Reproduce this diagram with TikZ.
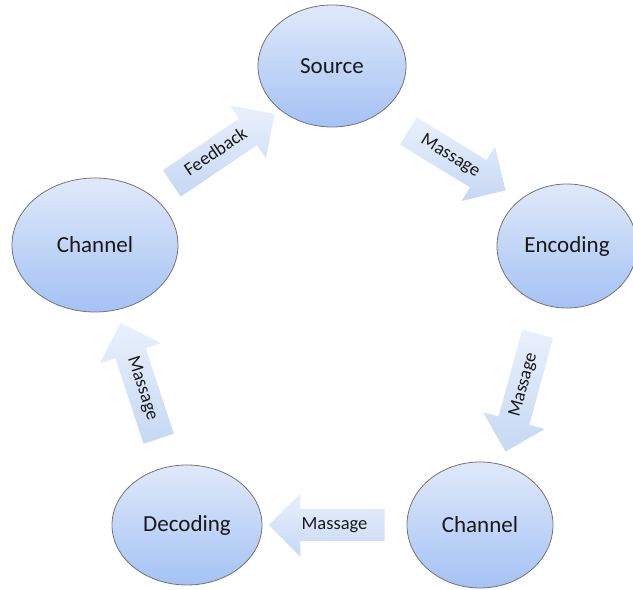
\documentclass[tikz,border=0pt]{standalone}
\usepackage{fontspec}
\setmainfont{Carlito}
\usetikzlibrary{shapes.geometric,shapes.arrows}

\definecolor{stageTop}{HTML}{E0E9FA}
\definecolor{stageBot}{HTML}{A4C2F4}
\definecolor{flowTop}{HTML}{E9F0FC}
\definecolor{flowBot}{HTML}{C6D8F4}

\begin{document}
\begin{tikzpicture}[x=1pt, y=1pt,
		stage/.style={ellipse, draw=black!55, line width=0.8pt, top color=stageTop, bottom color=stageBot, text=black!90, font=\fontsize{23}{27}\selectfont},
		flow/.style={single arrow, draw=none, top color=flowTop, bottom color=flowBot, minimum height=122pt, single arrow head extend=16pt, text height=12pt, text depth=3.5pt, inner ysep=8pt, text=black!90, font=\fontsize{18.5}{22}\selectfont},
		back/.style={shape border rotate=180}]
		\useasboundingbox (0,0) rectangle (633,590);
		
		\node[stage, minimum width=148pt, minimum height=122pt] (source) at (332,524) {Source};
		\node[stage, minimum width=140pt, minimum height=124pt] (encoding) at (567,344) {Encoding};
		\node[stage, minimum width=146pt, minimum height=126pt] (channel) at (480,65) {Channel};
		\node[stage, minimum width=150pt, minimum height=120pt] (decoding) at (187,65) {Decoding};
		\node[stage, minimum width=166pt, minimum height=134pt] (backchannel) at (95,345) {Channel};
		
		% block arrows round the loop
		\path (source) -- (encoding) node[flow, midway, sloped, rotate=6, minimum height=114pt] {Massage};
		\path (encoding) -- (channel) node[flow, back, midway, sloped, rotate=2] {Massage};
		\path (channel) -- (decoding) node[flow, back, midway, sloped, minimum height=116pt] {Massage};
		\path (decoding) -- (backchannel) node[flow, back, midway, sloped] {Massage};
		\path (backchannel) -- (source) node[flow, midway, sloped, rotate=-3, minimum height=124pt] {Feedback};
	\end{tikzpicture}
\end{document}
